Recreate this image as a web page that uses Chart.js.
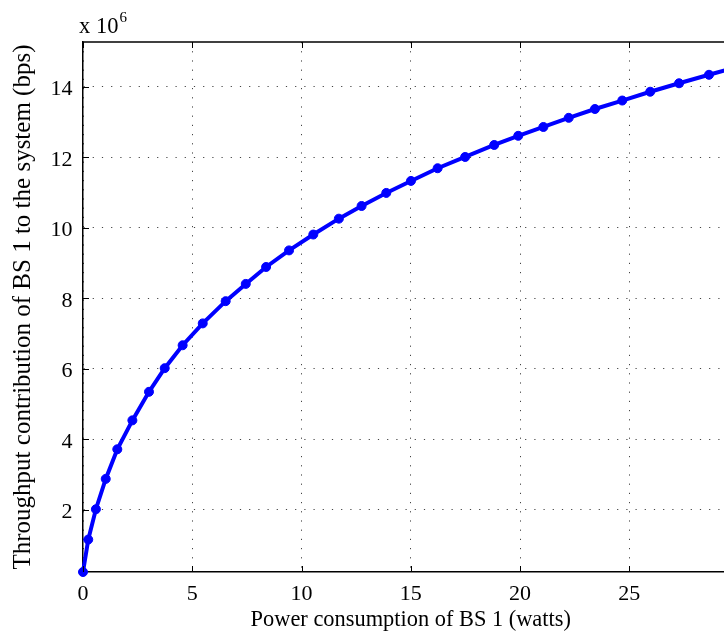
<!DOCTYPE html>
<html>
<head>
<meta charset="utf-8">
<script src="https://cdn.jsdelivr.net/npm/chart.js@4.4.1/dist/chart.umd.min.js"></script>
<style>
  html, body { margin: 0; padding: 0; background: #fff; overflow: hidden; }
  #wrap { width: 760px; height: 638px; }
</style>
</head>
<body>
<div id="wrap"><canvas id="chart" width="760" height="638"></canvas></div>
<script>
// Values (throughput in units of 10^6 bps)
const powerWatts = [0, 0.24, 0.59, 1.04, 1.57, 2.26, 3.02, 3.74, 4.56, 5.48, 6.53, 7.45, 8.38, 9.43, 10.54,
    11.71, 12.75, 13.88, 15.01, 16.23, 17.49, 18.82, 19.92, 21.07, 22.23, 23.43, 24.68, 25.96, 27.28, 28.65, 30.0];
const throughputE6 = [0.24, 1.16, 2.02, 2.88, 3.72, 4.54, 5.35, 6.02, 6.67, 7.29, 7.92, 8.41, 8.89, 9.36, 9.81,
    10.26, 10.62, 10.99, 11.33, 11.69, 12.01, 12.35, 12.61, 12.86, 13.12, 13.37, 13.61, 13.86, 14.10, 14.34, 14.57];
const xTicks = [0, 5, 10, 15, 20, 25, 30];
const yTicks = [2, 4, 6, 8, 10, 12, 14];

const serif = '"Liberation Serif", "Times New Roman", serif';

// MATLAB-style box: top border, inward tick marks, and the "x 10^6" multiplier
const matlabAxes = {
    id: 'matlabAxes',
    afterDatasetsDraw(chart) {
        const { ctx, chartArea: area, scales: { x, y } } = chart;
        ctx.save();
        ctx.strokeStyle = '#000';
        ctx.lineWidth = 1.5;
        ctx.beginPath();
        ctx.moveTo(area.left, area.top);
        ctx.lineTo(area.right, area.top);
        ctx.stroke();

        ctx.lineWidth = 1;
        ctx.beginPath();
        xTicks.forEach(v => {
            const px = Math.round(x.getPixelForValue(v)) + 0.5;
            ctx.moveTo(px, area.bottom);
            ctx.lineTo(px, area.bottom - 6);
            ctx.moveTo(px, area.top);
            ctx.lineTo(px, area.top + 6);
        });
        yTicks.forEach(v => {
            const py = Math.round(y.getPixelForValue(v)) + 0.5;
            ctx.moveTo(area.left, py);
            ctx.lineTo(area.left + 6, py);
        });
        ctx.stroke();

        ctx.fillStyle = '#000';
        ctx.textBaseline = 'alphabetic';
        ctx.font = '22.5px ' + serif;
        ctx.fillText('x 10', 79, 33);
        const w = ctx.measureText('x 10').width;
        ctx.font = '15px ' + serif;
        ctx.fillText('6', 79 + w + 1, 22);
        ctx.restore();
    }
};

new Chart(document.getElementById('chart'), {
    type: 'line',
    data: {
        datasets: [{
            data: powerWatts.map((p, i) => ({ x: p, y: throughputE6[i] })),
            borderColor: '#0000ff',
            backgroundColor: '#0000ff',
            borderWidth: 4,
            pointRadius: 4.5,
            pointBorderWidth: 1,
            pointBackgroundColor: '#0000ff',
            pointBorderColor: '#0000ff',
            tension: 0,
            clip: false
        }]
    },
    options: {
        responsive: false,
        animation: false,
        devicePixelRatio: 1,
        layout: { padding: { left: 0, top: 42, right: 21.5, bottom: 0 } },
        plugins: { legend: { display: false }, tooltip: { enabled: false } },
        scales: {
            x: {
                type: 'linear',
                min: 0,
                max: 30,
                afterBuildTicks: s => { s.ticks = xTicks.map(v => ({ value: v })); },
                afterFit: s => { s.height = 66; },
                ticks: { color: '#000', padding: 8.8, font: { family: serif, size: 22 }, callback: v => String(v), maxRotation: 0 },
                grid: { color: '#444', lineWidth: 1, drawTicks: false },
                border: { display: true, color: '#000', width: 1.5, dash: [1.2, 8] },
                title: { display: true, text: 'Power consumption of BS 1 (watts)', color: '#000',
                    font: { family: serif, size: 22.4 }, padding: { top: 0, bottom: 4 } }
            },
            y: {
                type: 'linear',
                min: 0.24,
                max: 15.27,
                afterBuildTicks: s => { s.ticks = yTicks.map(v => ({ value: v })); },
                afterFit: s => { s.width = 83; },
                ticks: { color: '#000', padding: 10.5, labelOffset: 2.5, font: { family: serif, size: 22 }, callback: v => String(v) },
                grid: { color: '#444', lineWidth: 1, drawTicks: false },
                border: { display: true, color: '#000', width: 1.5, dash: [1.2, 8] },
                title: { display: true, text: 'Throughput contribution of BS 1 to the system (bps)', color: '#000',
                    font: { family: serif, size: 25 }, padding: { top: 8.3, bottom: 0 } }
            }
        }
    },
    plugins: [matlabAxes]
});
</script>
</body>
</html>
